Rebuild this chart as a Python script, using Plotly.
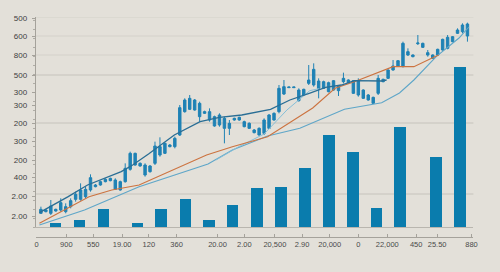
import plotly.graph_objects as go

# ---------------- data ----------------
# candle bodies / wicks as price values (index = trading day)
body_top = [598,600,588,598,578,590,572,553,540,538,503,525,515,508,505,510,515,475,430,430,
            460,465,468,408,410,400,405,385,293,270,265,270,280,305,305,320,315,325,340,325,
            322,335,340,360,355,330,315,310,235,230,231,231,240,238,210,178,213,215,218,212,
            228,205,210,212,212,240,255,262,205,208,180,168,152,100,125,135,99,100,128,135,
            118,88,82,80,60,45,42]
body_bot = [610,605,610,603,600,605,590,568,568,560,540,530,525,515,512,538,540,515,478,465,
            468,495,485,460,435,430,410,410,375,305,298,300,320,310,330,348,345,355,355,330,
            330,350,355,368,375,370,355,330,305,252,233,233,272,255,220,225,235,235,245,240,
            242,215,218,250,255,265,270,280,250,215,205,180,168,170,135,140,101,112,135,145,
            135,120,115,95,70,65,78]
wick_top = [590,598,570,596,565,580,565,545,520,530,493,522,512,505,503,505,512,460,425,428,
            457,460,465,395,382,398,402,380,285,265,255,267,275,302,295,317,310,320,330,323,
            320,332,337,357,352,325,312,307,225,210,231,231,235,236,165,160,205,212,215,210,
            225,188,208,210,205,238,252,260,195,206,178,150,150,95,115,133,75,98,120,133,
            116,86,75,78,55,40,38]
wick_bot = [612,607,615,605,605,610,595,575,572,565,545,532,527,517,514,540,542,518,482,467,
            470,500,488,465,440,432,412,415,378,308,300,302,335,312,335,350,350,400,375,332,
            332,352,357,370,377,375,357,332,310,255,233,233,275,257,225,230,265,237,247,242,
            258,220,220,252,260,267,272,282,255,217,207,182,170,172,138,142,105,114,140,147,
            137,122,118,97,72,70,95]
TOP = 651  # picture units -> price
days = list(range(len(body_top)))
price_hi = [TOP - v for v in wick_top]
price_lo = [TOP - v for v in wick_bot]
price_open = [TOP - v for v in body_bot]
price_close = [TOP - v for v in body_top]

# volume bars
vol_day = [2.9, 7.7, 12.6, 19.4, 24.2, 29.1, 33.8, 38.6, 43.5, 48.3, 53.2, 58.0, 62.9, 67.6, 72.4, 79.6, 84.5]
vol_val = [40, 70, 180, 40, 180, 280, 70, 220, 390, 400, 590, 920, 750, 190, 1000, 700, 1600]

# moving-average style lines (day, price)
ma_dark_d = [-0.3, 5.5, 9.4, 13.0, 16.2, 18.5, 21.7, 26.9, 32.1, 36.0, 40.5, 46.3, 50.2, 54.1, 57.4, 60.6, 63.2, 68.7, 69.7]
ma_dark_p = [43, 91, 126, 146, 166, 186, 219, 276, 316, 329, 336, 353, 381, 401, 419, 426, 439, 438, 441]
ma_orange_d = [-0.3, 9.7, 14.3, 19.8, 33.4, 38.6, 45.7, 54.8, 59.3, 63.2, 71.0, 75.2, 79.4, 80.2]
ma_orange_p = [11, 91, 111, 126, 216, 241, 271, 357, 416, 436, 481, 481, 511, 516]
ma_light_d = [-0.3, 8.8, 19.8, 33.7, 38.6, 45.7, 52.2, 61.2, 68.7, 72.3, 75.2, 79.7, 84.3, 86.3]
ma_light_p = [6, 51, 121, 189, 231, 273, 296, 353, 373, 402, 441, 511, 567, 600]
ma_steep_d = [35.3, 39.9, 45.0, 49.6, 54.2, 56.1]
ma_steep_p = [201, 241, 279, 351, 409, 415]

# axis labels
y_tick_vals = [627, 573, 516, 456, 405, 366, 312, 258, 201, 150, 93, 33]
y_tick_text = ["500", "600", "800", "500", "300", "300", "200", "300", "200", "400", "2.00", "2.00"]
x_tick_vals = [-2.2, 4.0, 9.65, 15.7, 21.3, 27.1, 35.7, 41.3, 47.7, 53.4, 59.2, 65.2, 71.25, 77.3, 81.7, 88.9]
x_tick_text = ["0", "900", "550", "19.00", "120", "360", "20.00", "2.00", "20,500", "2.90",
               "20,000", "0", "22,000", "450", "25.50", "880"]
grid_strong = [456, 312, 99]
grid_faint = [630, 573, 516]

# ---------------- figure ----------------
BG = "#e3e0d9"
CANDLE = "#1f82b5"
fig = go.Figure()

fig.add_trace(go.Bar(x=vol_day, y=vol_val, width=2.35, marker=dict(color="#0a7cad", line_width=0),
                     xaxis="x", yaxis="y2", showlegend=False))

fig.add_trace(go.Scatter(x=ma_light_d, y=ma_light_p, mode="lines",
                         line=dict(color="#5fa6c8", width=1.1), showlegend=False))
fig.add_trace(go.Scatter(x=ma_steep_d, y=ma_steep_p, mode="lines",
                         line=dict(color="#86bfd8", width=1.0), showlegend=False))
fig.add_trace(go.Scatter(x=ma_orange_d, y=ma_orange_p, mode="lines",
                         line=dict(color="#cc7340", width=1.1), showlegend=False))
fig.add_trace(go.Scatter(x=ma_dark_d, y=ma_dark_p, mode="lines",
                         line=dict(color="#2a6e95", width=1.3), showlegend=False))

fig.add_trace(go.Candlestick(
    x=days, open=price_open, high=price_hi, low=price_lo, close=price_close,
    increasing=dict(line=dict(color=CANDLE, width=1), fillcolor=CANDLE),
    decreasing=dict(line=dict(color=CANDLE, width=1), fillcolor=CANDLE),
    whiskerwidth=0, showlegend=False, xaxis="x", yaxis="y"))

shapes = []
for g in grid_strong:
    shapes.append(dict(type="line", xref="x domain", yref="y", x0=0, x1=1, y0=g, y1=g,
                       line=dict(color="#c6c3bc", width=1), layer="below"))
for g in grid_faint:
    shapes.append(dict(type="line", xref="x domain", yref="y", x0=0, x1=1, y0=g, y1=g,
                       line=dict(color="#d4d1ca", width=1), layer="below"))

L, R, T, B = 16, 12, 17, 35
W, H = 500, 272
pw = W - L - R
ph = H - T - B

fig.update_layout(
    width=W, height=H, margin=dict(l=L, r=R, t=T, b=B),
    paper_bgcolor=BG, plot_bgcolor=BG,
    font=dict(family="Liberation Sans Narrow, Liberation Sans, Arial", size=8, color="#4a4a4a"),
    shapes=shapes, bargap=0,
    xaxis=dict(domain=[(23 - L) / pw, (477 - L) / pw], range=[-1.04, 87.2], anchor="y",
               showline=True, linecolor="#b9b6af", linewidth=1, showgrid=False, zeroline=False,
               showticklabels=False, ticks="", rangeslider=dict(visible=False), fixedrange=True),
    xaxis2=dict(domain=[0, 1], range=[-2.4, 89.3], anchor="free", position=0, overlaying="x",
                showline=True, linecolor="#a5a29b", linewidth=1, showgrid=False, zeroline=False,
                tickmode="array", tickvals=x_tick_vals, ticktext=x_tick_text,
                ticks="inside", ticklen=3, tickcolor="#a5a29b",
                tickfont=dict(size=7.5, color="#4a4a4a")),
    yaxis=dict(domain=[(237 - 227) / ph, 1], range=[0, 630], anchor="x",
               showline=True, linecolor="#a5a29b", linewidth=1, showgrid=False, zeroline=False,
               tickmode="array", tickvals=y_tick_vals, ticktext=y_tick_text,
               ticks="outside", ticklen=3, tickcolor="#a5a29b", ticklabelstandoff=3,
               tickfont=dict(size=8, color="#3e3e3e"),
               minor=dict(tickmode="linear", tick0=0, dtick=27, ticks="outside", ticklen=2,
                          tickcolor="#b0ada6")),
    yaxis2=dict(overlaying="y", range=[0, 2100], visible=False, anchor="x"),
)

# dummy invisible trace so xaxis2 is drawn
fig.add_trace(go.Scatter(x=[0], y=[0], xaxis="x2", yaxis="y", mode="markers",
                         marker=dict(opacity=0), showlegend=False, hoverinfo="skip"))

fig.write_html("out.html")
